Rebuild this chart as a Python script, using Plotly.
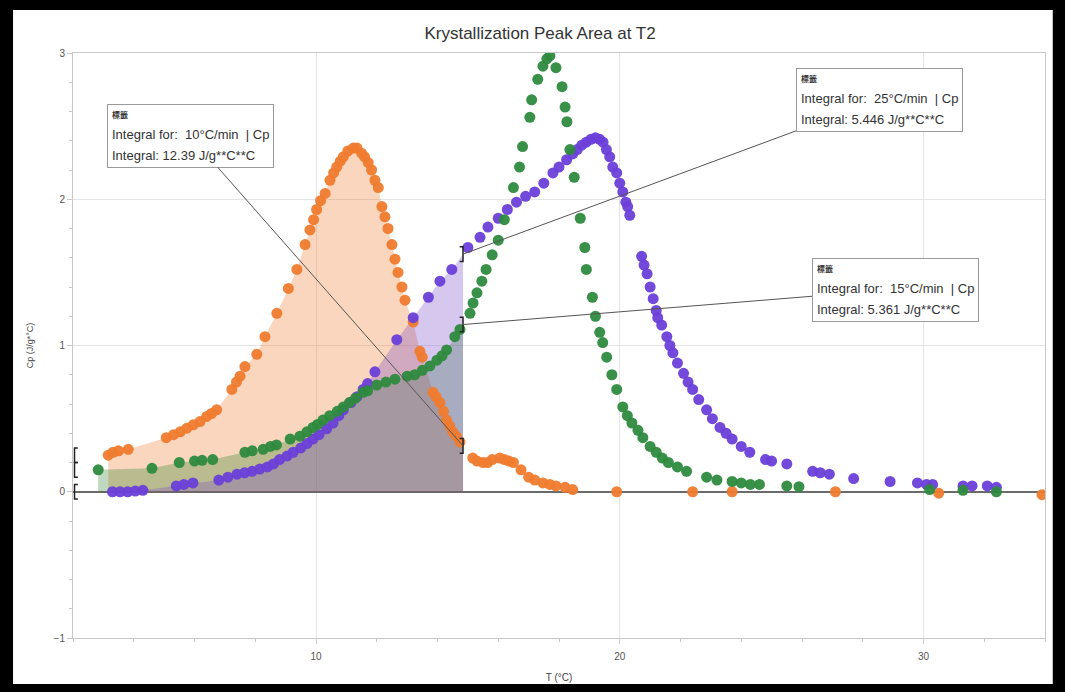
import numpy as np
import plotly.graph_objects as go

# ---------------- data ----------------
x_10 = [3.16,3.32,3.5,3.82,5.07,5.31,5.53,5.75,5.96,6.18,6.40,6.56,6.73,7.23,7.38,7.5,7.66,8.05,8.32,8.71,
        9.09,9.37,9.64,9.80,9.92,10.02,10.15,10.3,10.46,10.58,10.68,10.8,10.9,11.05,11.23,11.35,11.5,11.6,11.72,11.83,
        11.94,12.05,12.17,12.27,12.37,12.5,12.6,12.7,12.83,12.93,13.2,13.42,13.5,13.85,13.95,14.08,14.2,14.3,14.4,14.5,
        14.62,14.74,15.16,15.3,15.5,15.65,15.8,16.05,16.2,16.35,16.5,16.75,17.0,17.2,17.47,17.7,17.9,18.2,18.45,19.9,
        22.4,23.7,27.1,30.5,33.9]
y_10 = [0.25,0.27,0.28,0.29,0.37,0.39,0.41,0.435,0.458,0.48,0.515,0.535,0.56,0.70,0.75,0.79,0.856,0.94,1.06,1.22,
        1.39,1.52,1.69,1.79,1.86,1.93,1.99,2.04,2.13,2.18,2.22,2.26,2.29,2.33,2.35,2.35,2.315,2.29,2.25,2.20,
        2.13,2.08,1.95,1.88,1.80,1.69,1.59,1.50,1.40,1.31,1.16,0.96,0.92,0.68,0.65,0.61,0.55,0.49,0.45,0.41,
        0.38,0.34,0.23,0.21,0.20,0.20,0.22,0.23,0.22,0.21,0.20,0.15,0.10,0.08,0.06,0.05,0.04,0.03,0.015,0.0,
        0.0,0.0,0.0,-0.01,-0.02]

x_15 = [2.83,4.6,5.5,6.0,6.25,6.6,7.66,7.9,8.26,8.5,8.7,9.15,9.47,9.7,9.9,10.05,10.23,10.45,10.7,10.9,
        11.1,11.3,11.55,11.7,12.0,12.3,12.6,13.0,13.25,13.5,13.75,13.98,14.15,14.3,14.57,14.74,15.07,15.17,15.3,15.46,
        15.6,15.8,16.0,16.2,16.5,16.7,16.8,17.04,17.1,17.3,17.47,17.6,17.7,17.9,18.1,18.2,18.26,18.36,18.5,18.7,
        18.85,18.9,19.1,19.2,19.34,19.44,19.57,19.74,19.9,20.1,20.25,20.4,20.6,20.76,21.0,21.2,21.4,21.6,21.9,22.2,
        22.86,23.2,23.7,24.0,24.3,24.6,25.5,25.9,30.2,31.3,32.4]
y_15 = [0.15,0.16,0.20,0.21,0.215,0.22,0.27,0.28,0.29,0.31,0.32,0.36,0.38,0.41,0.44,0.46,0.49,0.52,0.55,0.58,
        0.61,0.64,0.68,0.69,0.73,0.75,0.77,0.79,0.80,0.83,0.86,0.90,0.93,0.97,1.06,1.11,1.22,1.29,1.36,1.44,
        1.52,1.62,1.72,1.86,2.08,2.22,2.36,2.56,2.68,2.82,2.91,2.96,2.98,2.90,2.77,2.63,2.53,2.34,2.15,1.87,
        1.67,1.52,1.33,1.20,1.09,1.02,0.92,0.80,0.70,0.58,0.52,0.47,0.42,0.37,0.31,0.27,0.23,0.20,0.17,0.14,
        0.10,0.08,0.07,0.06,0.05,0.05,0.04,0.035,0.015,0.01,0.0]

x_25 = [3.3,3.55,3.8,4.05,4.3,5.4,5.65,5.95,6.8,7.1,7.4,7.65,7.9,8.15,8.4,8.6,8.8,9.05,9.25,9.5,
        9.7,9.9,10.1,10.35,10.56,10.75,10.9,11.15,11.35,11.55,11.7,11.94,12.66,13.2,13.7,14.08,14.47,15.0,15.4,15.66,
        16.0,16.3,16.6,16.9,17.2,17.5,17.8,18.0,18.25,18.45,18.6,18.75,18.9,19.05,19.2,19.34,19.45,19.56,19.67,19.77,
        19.9,20.0,20.1,20.2,20.26,20.33,20.72,20.8,20.9,21.0,21.1,21.2,21.25,21.38,21.55,21.65,21.75,21.9,22.1,22.25,
        22.4,22.6,22.86,23.05,23.3,23.5,23.7,24.0,24.28,24.8,25.0,25.5,26.35,26.6,26.9,27.7,28.9,29.8,30.1,30.3,
        31.3,31.6,32.1,32.4]
y_25 = [0.0,0.0,0.0,0.005,0.01,0.04,0.05,0.06,0.08,0.10,0.12,0.13,0.14,0.155,0.17,0.19,0.22,0.245,0.27,0.30,
        0.33,0.36,0.39,0.43,0.47,0.52,0.56,0.61,0.65,0.70,0.74,0.82,1.04,1.19,1.33,1.44,1.52,1.67,1.74,1.81,
        1.87,1.93,1.98,2.02,2.05,2.11,2.18,2.22,2.27,2.31,2.34,2.37,2.39,2.41,2.42,2.41,2.39,2.34,2.29,2.22,
        2.18,2.11,2.05,1.98,1.95,1.89,1.61,1.55,1.49,1.40,1.32,1.24,1.19,1.14,1.06,1.00,0.95,0.88,0.81,0.75,
        0.70,0.63,0.56,0.50,0.44,0.40,0.36,0.31,0.27,0.22,0.21,0.19,0.14,0.13,0.12,0.09,0.07,0.06,0.05,0.05,
        0.04,0.04,0.04,0.03]

series_names = ["10°C/min", "15°C/min", "25°C/min"]
integrals = ["12.39", "5.361", "5.446"]
int_start = 2.0
int_end = 14.84

# ---------------- style ----------------
colors = {"10°C/min": "#EF7B2E", "15°C/min": "#2E8A3E", "25°C/min": "#6A3FD8"}
fills = {"10°C/min": "rgba(240,120,40,0.30)", "15°C/min": "rgba(40,130,40,0.30)", "25°C/min": "rgba(120,70,200,0.30)"}
data = {"10°C/min": (x_10, y_10), "15°C/min": (x_15, y_15), "25°C/min": (x_25, y_25)}

fig = go.Figure()

# fills (integral areas)
end_vals = {}
start_vals = {}
for name in series_names:
    xs, ys = np.array(data[name][0]), np.array(data[name][1])
    m = (xs >= int_start) & (xs <= int_end)
    ye = float(np.interp(int_end, xs, ys))
    end_vals[name] = ye
    start_vals[name] = float(ys[m][0])
    fx = list(xs[m]) + [int_end]
    fy = list(ys[m]) + [ye]
    fig.add_trace(go.Scatter(x=fx, y=fy, mode="lines", line=dict(width=0), fill="tozeroy",
                             fillcolor=fills[name], hoverinfo="skip"))

# markers
for name in ["10°C/min", "25°C/min", "15°C/min"]:
    xs, ys = data[name]
    fig.add_trace(go.Scatter(x=xs, y=ys, mode="markers", name=name,
                             marker=dict(size=11, color=colors[name], opacity=0.95, line=dict(width=0))))

# brackets
shapes = []
bw, bh = 0.11, 0.05
for name in series_names:
    ye = end_vals[name]
    shapes.append(dict(type="path", xref="x", yref="y",
                       path=f"M {int_end-bw},{ye-bh} L {int_end},{ye-bh} L {int_end},{ye+bh} L {int_end-bw},{ye+bh}",
                       line=dict(color="#222", width=1.5)))
    ys0 = start_vals[name]
    shapes.append(dict(type="path", xref="x", yref="y",
                       path=f"M {int_start+0.05+bw},{ys0-bh} L {int_start+0.05},{ys0-bh} L {int_start+0.05},{ys0+bh} L {int_start+0.05+bw},{ys0+bh}",
                       line=dict(color="#222", width=1.5)))

# black frame
shapes.insert(0, dict(type="rect", xref="paper", yref="paper", x0=-0.0617, x1=1.008, y0=-0.0786, y1=1.0735,
                      fillcolor="white", line=dict(width=0), layer="below"))

# annotations (integral labels)
box_offsets = {"10°C/min": (-273, -310), "15°C/min": (432, -35), "25°C/min": (416, -154)}
annotations = []
for name, val in zip(series_names, integrals):
    ax, ay = box_offsets[name]
    txt = ("<span style='font-size:8px;font-weight:bold;font-family:Noto Sans CJK TC'>標籤</span><br>"
           f"<span style='font-size:13px'>Integral for:  {name}  | Cp</span><br>"
           f"<span style='font-size:13px'>Integral: {val} J/g**C**C</span>")
    annotations.append(dict(x=int_end, y=end_vals[name], xref="x", yref="y", ax=ax, ay=ay,
                            text=txt, showarrow=True, arrowhead=0, arrowwidth=1, arrowcolor="#555",
                            align="left", bgcolor="white", bordercolor="#9a9a9a", borderwidth=1, borderpad=4,
                            font=dict(size=16, color="#333", family="Liberation Sans, Arial, sans-serif")))

fig.update_layout(
    width=1065, height=692,
    margin=dict(l=73, r=20, t=53, b=54),
    paper_bgcolor="black", plot_bgcolor="white",
    showlegend=False,
    font=dict(family="Liberation Sans, Arial, sans-serif", color="#444"),
    title=dict(text="Krystallization Peak Area at T2", x=0.4805, xref="paper", y=0.952, yref="container",
               xanchor="center", yanchor="middle", font=dict(size=17, color="#333")),
    shapes=shapes, annotations=annotations,
)
fig.update_xaxes(range=[2, 34], tickvals=[10, 20, 30], showgrid=True, gridcolor="#e4e4e4", gridwidth=1,
                 zeroline=False, showline=True, linecolor="#c8c8c8", mirror=True,
                 ticks="outside", ticklen=5, tickcolor="#c8c8c8", ticklabelstandoff=4,
                 minor=dict(dtick=2, ticks="outside", ticklen=3, tickcolor="#c8c8c8", showgrid=False),
                 tickfont=dict(size=10, color="#555"),
                 title=dict(text="T (°C)", font=dict(size=10, color="#444"), standoff=12))
fig.update_yaxes(range=[-1, 3], dtick=1, showgrid=True, gridcolor="#e4e4e4", gridwidth=1,
                 zeroline=True, zerolinecolor="#6a6a6a", zerolinewidth=1.5,
                 showline=True, linecolor="#c8c8c8", mirror=True,
                 ticks="outside", ticklen=5, tickcolor="#c8c8c8",
                 minor=dict(dtick=0.2, ticks="outside", ticklen=3, tickcolor="#c8c8c8", showgrid=False),
                 tickfont=dict(size=10, color="#555"),
                 title=dict(text="Cp (J/g*°C)", font=dict(size=9, color="#444"), standoff=18))

fig.write_html("out.html")
